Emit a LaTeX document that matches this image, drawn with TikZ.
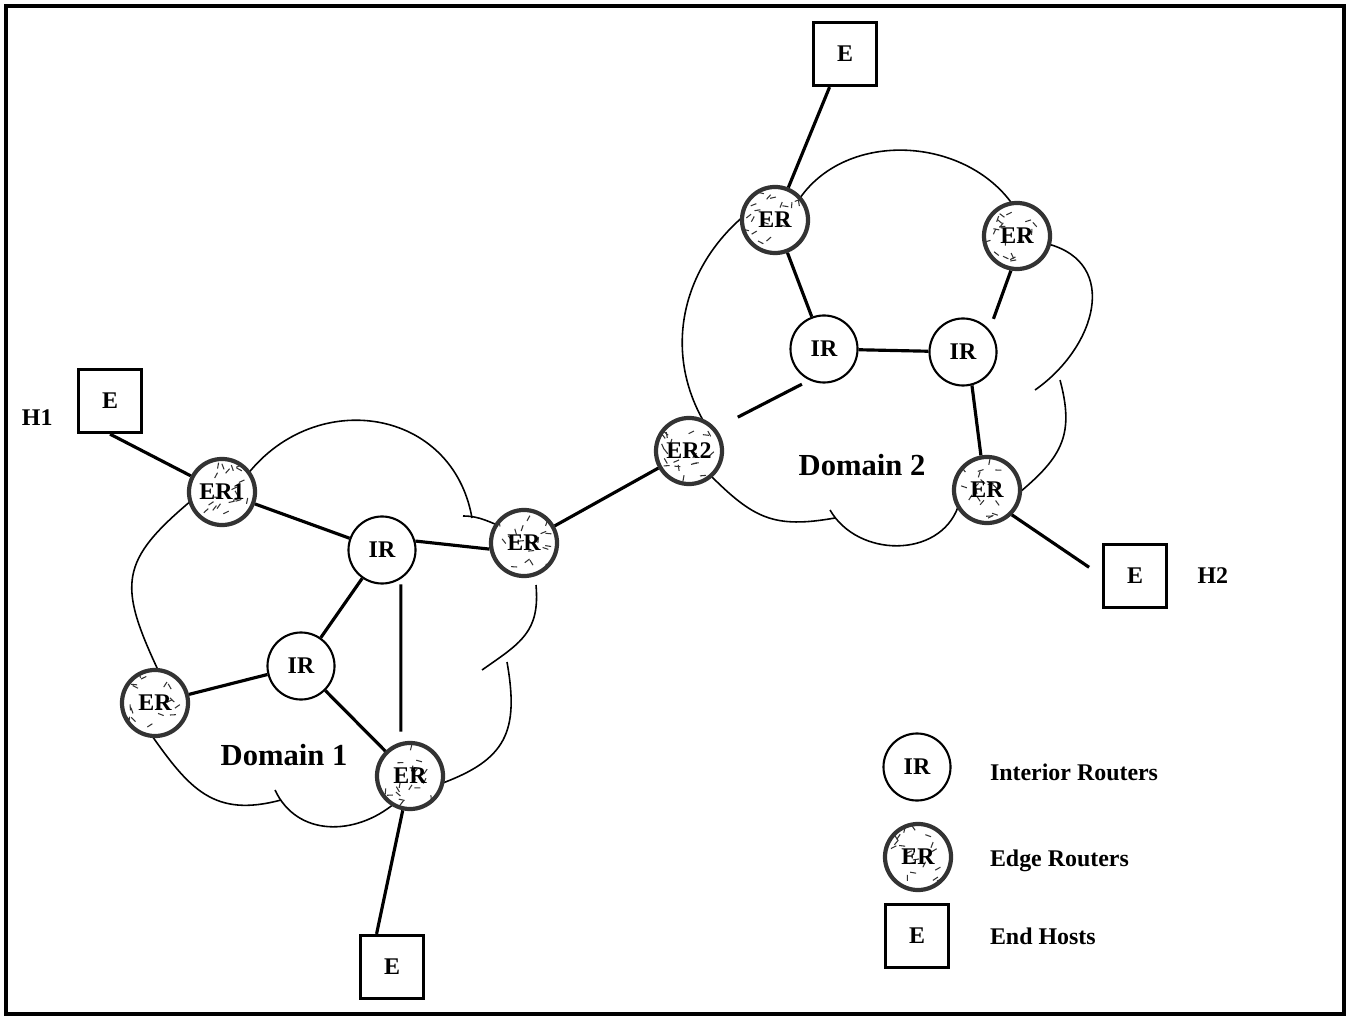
\documentclass[tikz,border=0pt]{standalone}
\usepackage{fontspec}
\setmainfont{Liberation Serif}
\usetikzlibrary{positioning,calc}

\begin{document}
\begin{tikzpicture}[
    x=0.01cm, y=0.01cm,
    lbl/.style={font=\bfseries\fontsize{6.8}{8}\selectfont},
    dom/.style={font=\bfseries\fontsize{8.7}{10}\selectfont},
    ir/.style={circle,draw,line width=0.6pt,fill=white,minimum size=0.67cm,inner sep=0pt,lbl},
    er/.style={circle,draw=black!80,line width=1.2pt,fill=white,minimum size=0.66cm,inner sep=0pt,lbl,
      path picture={\foreach \k in {1,...,20}
        \draw[line width=0.3pt] ([shift={({27*rand},{27*rand})}]path picture bounding box.center) -- ++({360*rnd}:6);}},
    host/.style={rectangle,draw,line width=0.9pt,fill=white,minimum size=0.63cm,inner sep=0pt,lbl},
    link/.style={line width=0.9pt},
    cloud/.style={line width=0.45pt}
  ]
  \pgfmathsetseed{11}
  \useasboundingbox (0,0) rectangle (1355,-1019);
  \draw[line width=1pt] (6,-6) rectangle (1344,-1014);

  % domain 1 cloud
  \draw[cloud] (247,-475) to[out=52,in=100,looseness=1.25] (472,-518);
  \draw[cloud] (463,-516) to[out=0,in=160] (505,-528);
  \draw[cloud] (536,-585) to[out=-85,in=35,looseness=1.2] (482,-670);
  \draw[cloud] (507,-662) to[out=-80,in=20,looseness=1.3] (440,-784);
  \draw[cloud] (395,-803) to[out=-140,in=-65,looseness=1.1] (275,-790);
  \draw[cloud] (281,-800) to[out=-165,in=-55,looseness=1.2] (150,-733);
  \draw[cloud] (158,-670) to[out=115,in=-140,looseness=1.4] (192,-500);
  % domain 2 cloud
  \draw[cloud] (800,-198) to[out=55,in=125] (1013,-205);
  \draw[cloud] (1048,-244) to[out=-15,in=35,looseness=1.3] (1035,-390);
  \draw[cloud] (1060,-380) to[out=-75,in=40,looseness=1.2] (1020,-492);
  \draw[cloud] (958,-507) to[out=-110,in=-60,looseness=1.1] (830,-510);
  \draw[cloud] (835,-518) to[out=-170,in=-45,looseness=1.2] (710,-475);
  \draw[cloud] (704,-422) to[out=120,in=-140] (745,-215);

  % domain 1
  \node[er] (er1) at (222,-492) {ER1};
  \node[ir] (ir1n) at (382,-550) {IR};
  \node[er] (er1e) at (524,-543) {ER};
  \node[ir] (ir1s) at (301,-666) {IR};
  \node[er] (er1w) at (155,-703) {ER};
  \node[er] (er1s) at (410,-776) {ER};
  \node[dom] (d1) at (284,-755) {Domain 1};
  % domain 2
  \node[er] (er2) at (689,-451) {ER2};
  \node[er] (er2n) at (775,-220) {ER};
  \node[er] (er2ne) at (1017,-236) {ER};
  \node[ir] (ir2w) at (824,-349) {IR};
  \node[ir] (ir2e) at (963,-352) {IR};
  \node[er] (er2se) at (987,-490) {ER};
  \node[dom] (d2) at (862,-465) {Domain 2};
  % end hosts
  \node[host] (h1) at (110,-401) {E};
  \node[host] (h2) at (1135,-576) {E};
  \node[host] (hN) at (845,-54) {E};
  \node[host] (hS) at (392,-967) {E};
  \node[lbl,left=0.12cm of h1,yshift=-4.8pt] (h1lbl) {H1};
  \node[lbl,right=0.17cm of h2] (h2lbl) {H2};

  \foreach \a/\b in {er1/ir1n,ir1n/ir1s,ir1s/er1w,ir1s/er1s,er1e/er2,er2n/ir2w,ir2w/ir2e}
    \draw[link] (\a) -- (\b);
  \draw[link] (h1.south) -- (er1);
  \draw[link] (ir1n.15) -- (er1e.190);
  \draw[link,shorten <=1.5pt,shorten >=3pt] (ir1n.-57) -- (er1s.105);
  \draw[link] (er1s) -- (hS.115);
  \draw[link,shorten <=7pt,shorten >=2.4pt] (er2.40) -- (ir2w.-115);
  \draw[link] (er2n) -- (hN.-115);
  \draw[link,shorten >=3.3pt] (er2ne.-100) -- (ir2e.40);
  \draw[link] (ir2e.-75) -- (er2se.100);
  \draw[link,shorten >=4.4pt] (er2se.-45) -- (h2.180);

  % legend
  \node[ir] (keyIR) at (917,-767) {IR};
  \node[er] (keyER) at (918,-857) {ER};
  \node[host] (keyE) at (917,-936) {E};
  \node[lbl,right=0.26cm of keyIR,yshift=-1.4pt] (keyIRlbl) {Interior Routers};
  \node[lbl,anchor=west,yshift=-1.2pt] (keyERlbl) at (keyIRlbl.west |- keyER) {Edge Routers};
  \node[lbl,anchor=west] (keyElbl) at (keyIRlbl.west |- keyE) {End Hosts};
\end{tikzpicture}
\end{document}
